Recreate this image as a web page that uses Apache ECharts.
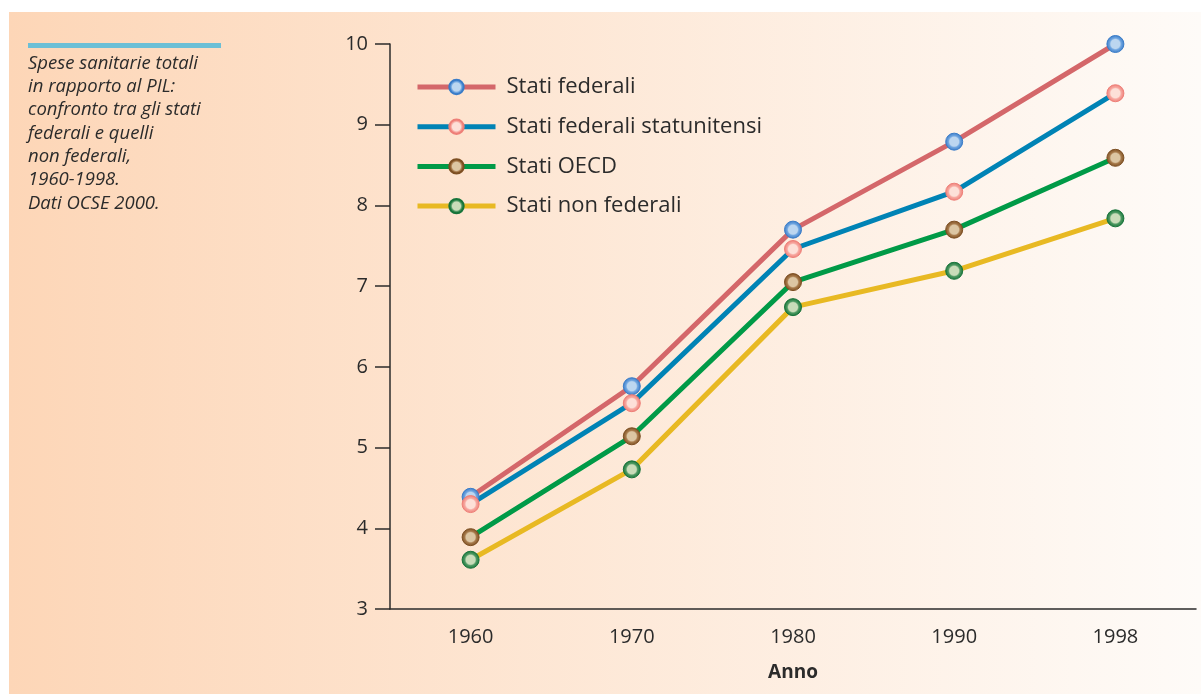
<!DOCTYPE html>
<html>
<head>
<meta charset="utf-8">
<script src="https://cdn.jsdelivr.net/npm/echarts@6/dist/echarts.min.js"></script>
<style>
  html, body { margin: 0; padding: 0; background: #fff; }
  #main { width: 1201px; height: 694px; }
</style>
</head>
<body>
<div id="main"></div>
<script>
  // dati
  var anni = ['1960', '1970', '1980', '1990', '1998'];
  var statiFederali = [4.39, 5.76, 7.70, 8.79, 10.0];
  var statiUSA = [4.30, 5.55, 7.46, 8.17, 9.39];
  var statiOECD = [3.89, 5.14, 7.05, 7.70, 8.59];
  var statiNonFederali = [3.61, 4.73, 6.74, 7.19, 7.84];
  var nomi = ['Stati federali', 'Stati federali statunitensi', 'Stati OECD', 'Stati non federali'];
  var didascalia = ['Spese sanitarie totali', 'in rapporto al PIL:', 'confronto tra gli stati',
    'federali e quelli', 'non federali,', '1960-1998.', 'Dati OCSE 2000.'];

  var font = '"Open Sans"';

  function pallino(bordo, medio, centro) {
    return new echarts.graphic.RadialGradient(0.5, 0.5, 0.5, [
      { offset: 0, color: centro },
      { offset: 0.5, color: centro },
      { offset: 0.65, color: medio },
      { offset: 1, color: bordo }
    ]);
  }

  function serie(nome, dati, linea, bordo, medio, centro) {
    return {
      name: nome,
      type: 'line',
      data: dati,
      symbol: 'circle',
      symbolSize: 17,
      lineStyle: { color: linea, width: 5 },
      itemStyle: { color: pallino(bordo, medio, centro), borderColor: bordo, borderWidth: 1 },
      z: 3
    };
  }

  var graficiTesto = didascalia.map(function (riga, i) {
    return {
      type: 'text', left: 28, top: 54 + i * 23.3,
      style: { text: riga, font: 'italic 18.5px ' + font, fill: '#2b2b2b' }
    };
  });

  var myChart = echarts.init(document.getElementById('main'));
  var option = {
    animation: false,
    backgroundColor: '#ffffff',
    graphic: [
      {
        type: 'rect', left: 9, top: 12, z: -10,
        shape: { width: 1192, height: 682 },
        style: {
          fill: new echarts.graphic.LinearGradient(0, 0, 1, 0, [
            { offset: 0, color: '#fdd6b7' },
            { offset: 1, color: '#fefbf8' }
          ])
        }
      },
      {
        type: 'rect', left: 28, top: 43, z: -5,
        shape: { width: 193, height: 5 },
        style: { fill: '#6bbfd6' }
      }
    ].concat(graficiTesto),
    legend: {
      orient: 'vertical',
      left: 410,
      top: 71,
      itemWidth: 78,
      itemHeight: 18,
      itemGap: 17.7,
      lineStyle: { width: 5 },
      textStyle: { fontFamily: font, fontSize: 22, color: '#2b2b2b', padding: [0, 0, 0, 6] },
      data: nomi
    },
    grid: { left: 390, right: 5, top: 44, bottom: 85 },
    xAxis: {
      type: 'category',
      data: anni,
      name: 'Anno',
      nameLocation: 'middle',
      nameGap: 54,
      nameTextStyle: { fontFamily: font, fontSize: 19, fontWeight: 'bold', color: '#2b2b2b' },
      axisLine: { lineStyle: { color: '#2b2b2b', width: 1.5 } },
      axisTick: { length: 12, lineStyle: { color: '#2b2b2b', width: 1.5 } },
      axisLabel: { margin: 18, fontFamily: font, fontSize: 20, color: '#2b2b2b' }
    },
    yAxis: {
      type: 'value',
      min: 3,
      max: 10,
      interval: 1,
      axisLine: { show: true, lineStyle: { color: '#2b2b2b', width: 1.5 } },
      axisTick: { show: true, length: 15, lineStyle: { color: '#2b2b2b', width: 1.5 } },
      axisLabel: { margin: 22, fontFamily: font, fontSize: 20, color: '#2b2b2b' },
      splitLine: { show: false }
    },
    series: [
      serie(nomi[0], statiFederali, '#d4676a', '#3a7cc8', '#6fa5e0', '#bcd6f0'),
      serie(nomi[1], statiUSA, '#0083b5', '#ee7f78', '#f7a8a0', '#fde0d8'),
      serie(nomi[2], statiOECD, '#009a47', '#7d4f22', '#a77a4b', '#dcc6a3'),
      serie(nomi[3], statiNonFederali, '#e8b923', '#17743a', '#4f9a63', '#c9dcb9')
    ]
  };
  myChart.setOption(option);
</script>
</body>
</html>
